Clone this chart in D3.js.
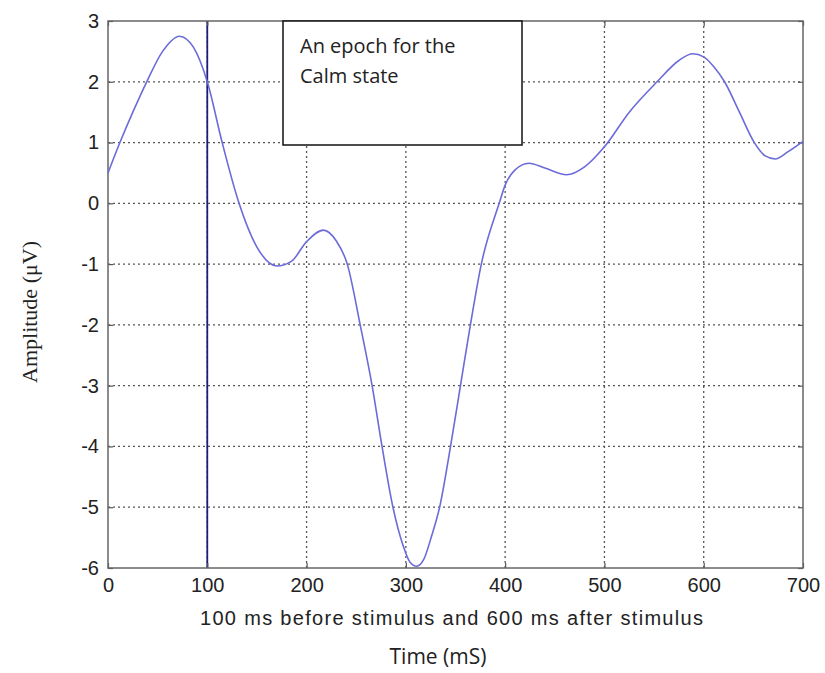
<!DOCTYPE html>
<html>
<head>
<meta charset="utf-8">
<script src="https://cdn.jsdelivr.net/npm/d3@7"></script>
<style>
body { margin: 0; background: #fff; }
</style>
</head>
<body>
<div id="chart"></div>
<script>
var width = 825, height = 673;

// epoch samples (time in ms, amplitude in uV)
var times = [0, 12, 25, 39, 55, 72, 86, 100, 115, 132, 150, 170, 185, 200, 217, 230, 241, 254, 266, 276, 287, 297, 304, 311, 318, 326, 334, 345, 355, 365, 376, 394, 400, 410, 424, 440, 462, 480, 500, 525, 553, 575, 589, 600, 610, 621, 636, 651, 662, 672, 685, 700];
var amps  = [0.5, 1.0, 1.5, 2.0, 2.5, 2.75, 2.57, 2.0, 1.0, 0.0, -0.72, -1.03, -0.95, -0.63, -0.44, -0.62, -1.0, -2.0, -3.0, -4.0, -5.0, -5.62, -5.9, -5.97, -5.86, -5.47, -5.0, -4.0, -3.0, -2.0, -1.0, 0.0, 0.3, 0.55, 0.66, 0.58, 0.47, 0.6, 0.93, 1.5, 2.0, 2.35, 2.46, 2.41, 2.25, 2.0, 1.5, 1.0, 0.78, 0.73, 0.85, 1.02];

var xTicks = [0, 100, 200, 300, 400, 500, 600, 700];
var yTicks = [3, 2, 1, 0, -1, -2, -3, -4, -5, -6];
var stimulusTime = 100;
var boxLines = ["An epoch for the", "Calm state"];

var pLeft = 108, pRight = 803, pTop = 21, pBottom = 568;

var x = d3.scaleLinear().domain([0, 700]).range([pLeft, pRight]);
var y = d3.scaleLinear().domain([-6, 3]).range([pBottom, pTop]);

// plain hyphen minus, like the original
var plain = function(d){ return String(d); };

var svg = d3.select("#chart").append("svg")
    .attr("width", width)
    .attr("height", height)
    .attr("xmlns", "http://www.w3.org/2000/svg");

// dotted grid
svg.append("g")
    .selectAll("line")
    .data(xTicks.slice(1, -1))
    .enter()
    .append("line")
    .attr("x1", function(d){ return x(d); })
    .attr("x2", function(d){ return x(d); })
    .attr("y1", pTop)
    .attr("y2", pBottom)
    .style("stroke", "#555")
    .style("stroke-width", 1.3)
    .style("stroke-dasharray", "2,3");

svg.append("g")
    .selectAll("line")
    .data(yTicks.slice(1, -1))
    .enter()
    .append("line")
    .attr("x1", pLeft)
    .attr("x2", pRight)
    .attr("y1", function(d){ return y(d); })
    .attr("y2", function(d){ return y(d); })
    .style("stroke", "#555")
    .style("stroke-width", 1.3)
    .style("stroke-dasharray", "2,3");

// stimulus marker
svg.append("line")
    .attr("x1", x(stimulusTime))
    .attr("x2", x(stimulusTime))
    .attr("y1", pTop)
    .attr("y2", pBottom)
    .style("stroke", "#1c1c7a")
    .style("stroke-width", 1.8);

// axes, ticks inward on all sides
var xAxisB = d3.axisBottom(x).tickValues(xTicks).tickSize(-5).tickPadding(10).tickFormat(plain);
var xAxisT = d3.axisTop(x).tickValues(xTicks).tickSize(-5).tickFormat("");
var yAxisL = d3.axisLeft(y).tickValues(yTicks).tickSize(-5).tickPadding(9).tickFormat(plain);
var yAxisR = d3.axisRight(y).tickValues(yTicks).tickSize(-5).tickFormat("");

function styleAxis(g) {
    g.select(".domain").remove();
    g.selectAll(".tick line").style("stroke", "#555").style("stroke-width", 1.2);
    g.selectAll(".tick text")
        .style("font-family", "'Liberation Sans', Arial, sans-serif")
        .style("font-size", "20px")
        .style("fill", "#222");
}

svg.append("g").attr("transform", "translate(0," + pBottom + ")").call(xAxisB).call(styleAxis);
svg.append("g").attr("transform", "translate(0," + pTop + ")").call(xAxisT).call(styleAxis);
svg.append("g").attr("transform", "translate(" + pLeft + ",0)").call(yAxisL).call(styleAxis);
svg.append("g").attr("transform", "translate(" + pRight + ",0)").call(yAxisR).call(styleAxis);

// frame
svg.append("rect")
    .attr("x", pLeft)
    .attr("y", pTop)
    .attr("width", pRight - pLeft)
    .attr("height", pBottom - pTop)
    .style("fill", "none")
    .style("stroke", "#666")
    .style("stroke-width", 1.5);

// signal
var line = d3.line()
    .x(function(d, i){ return x(times[i]); })
    .y(function(d){ return y(d); })
    .curve(d3.curveMonotoneX);

svg.append("path")
    .datum(amps)
    .attr("d", line)
    .style("fill", "none")
    .style("stroke", "#6b6bd9")
    .style("stroke-width", 1.6);

// annotation box
svg.append("rect")
    .attr("x", 283)
    .attr("y", pTop)
    .attr("width", 239)
    .attr("height", 124)
    .style("fill", "#fff")
    .style("stroke", "#111")
    .style("stroke-width", 1.5);

svg.selectAll("text.note")
    .data(boxLines)
    .enter()
    .append("text")
    .attr("class", "note")
    .attr("x", 300)
    .attr("y", function(d, i){ return 53 + i * 30; })
    .style("font-family", "'Open Sans', sans-serif")
    .style("font-size", "20px")
    .style("fill", "#222")
    .text(function(d){ return d; });

// labels
svg.append("text")
    .attr("x", 200)
    .attr("y", 625)
    .attr("textLength", 503)
    .attr("lengthAdjust", "spacing")
    .style("font-family", "'Liberation Sans', Arial, sans-serif")
    .style("font-size", "20px")
    .style("fill", "#222")
    .text("100 ms before stimulus and 600 ms after stimulus");

svg.append("text")
    .attr("x", 438)
    .attr("y", 664)
    .attr("text-anchor", "middle")
    .style("font-family", "'Open Sans', sans-serif")
    .style("font-size", "21px")
    .style("fill", "#222")
    .text("Time (mS)");

svg.append("text")
    .attr("transform", "translate(37,312) rotate(-90)")
    .attr("text-anchor", "middle")
    .style("font-family", "'Liberation Serif', 'Times New Roman', serif")
    .style("font-size", "22px")
    .style("fill", "#222")
    .text("Amplitude (\u03bcV)");
</script>
</body>
</html>
